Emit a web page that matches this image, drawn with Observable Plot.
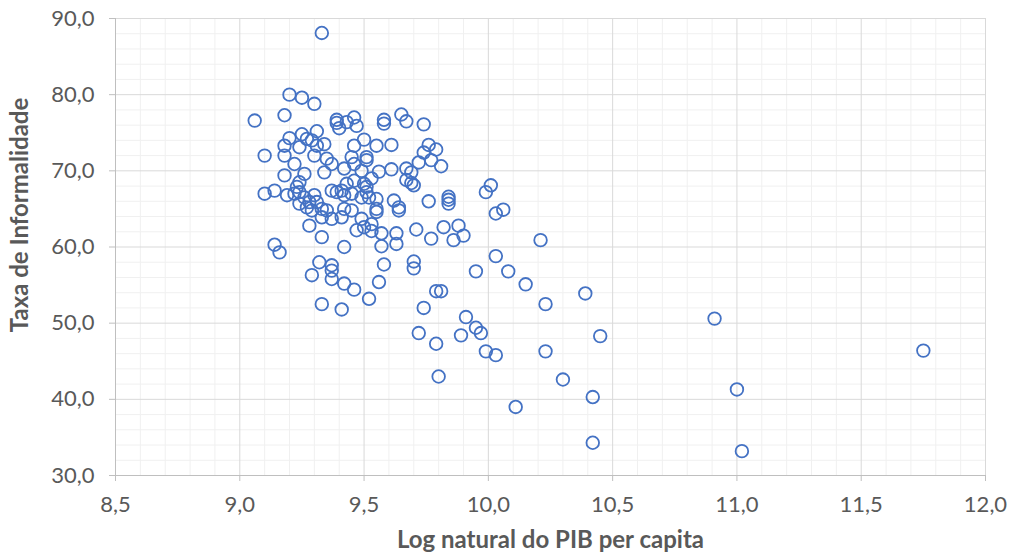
<!DOCTYPE html>
<html>
<head>
<meta charset="utf-8">
<script src="https://cdn.jsdelivr.net/npm/d3@7"></script>
<script src="https://cdn.jsdelivr.net/npm/@observablehq/plot@0.6"></script>
<style>
  html, body { margin: 0; padding: 0; background: #ffffff; }
  #chart { width: 1009px; height: 560px; }
</style>
</head>
<body>
<div id="chart"></div>
<script>
// Log natural do PIB per capita
const logPib = [
  9.33, 9.20, 9.25, 9.30, 9.06, 9.18, 9.39, 9.39, 9.43, 9.46,
  9.47, 9.40, 9.31, 9.20, 9.25, 9.27, 9.29, 9.34, 9.18, 9.46,
  9.50, 9.58, 9.58, 9.65, 9.67, 9.74, 9.55, 9.61, 9.51, 9.51,
  9.76, 9.79, 9.74, 9.77, 9.72, 9.81, 9.49, 9.56, 9.61, 9.67,
  9.69, 9.53, 9.67, 9.69, 9.70, 9.51, 9.51, 9.52, 9.55, 9.62,
  9.64, 9.55, 9.76, 9.84, 9.84, 9.84, 9.99, 10.01, 9.50, 9.55,
  9.64, 9.53, 9.50, 9.53, 9.57, 9.63, 9.63, 9.57, 9.71, 9.77,
  9.82, 9.88, 9.90, 9.86, 10.03, 9.58, 9.70, 9.70, 9.56, 9.52,
  9.95, 9.79, 9.81, 9.74, 9.91, 9.95, 9.97, 9.72, 9.89, 9.79,
  9.99, 10.03, 9.80, 10.06, 10.03, 10.21, 10.08, 10.15, 10.39, 10.23,
  10.23, 10.45, 10.30, 10.42, 10.11, 10.42, 9.32, 9.37, 9.37, 9.29,
  9.37, 9.42, 9.46, 9.33, 9.41, 9.10, 9.18, 9.22, 9.18, 9.26,
  9.24, 9.23, 9.10, 9.14, 9.19, 9.22, 9.24, 9.26, 9.24, 9.28,
  9.27, 9.29, 9.28, 9.14, 9.24, 9.31, 9.30, 9.35, 9.37, 9.45,
  9.46, 9.42, 9.34, 9.37, 9.39, 9.41, 9.43, 9.46, 9.49, 9.45,
  9.42, 9.30, 9.31, 9.33, 9.35, 9.33, 9.42, 9.41, 9.45, 9.49,
  9.47, 9.37, 9.33, 9.42, 9.16, 10.91, 11.00, 11.02, 11.75
];
// Taxa de Informalidade
const informalidade = [
  88.1, 80.0, 79.6, 78.8, 76.6, 77.3, 76.7, 76.3, 76.4, 77.0,
  75.9, 75.6, 75.2, 74.3, 74.8, 74.2, 74.0, 73.5, 73.3, 73.3,
  74.1, 76.7, 76.2, 77.4, 76.5, 76.1, 73.3, 73.4, 71.8, 71.4,
  73.4, 72.8, 72.4, 71.4, 71.1, 70.6, 70.0, 69.9, 70.2, 70.3,
  69.8, 69.0, 68.8, 68.4, 68.1, 67.9, 67.2, 66.5, 66.3, 66.1,
  65.2, 65.0, 66.0, 66.6, 66.2, 65.7, 67.2, 68.1, 68.3, 64.6,
  64.8, 63.0, 62.6, 62.1, 61.8, 61.8, 60.4, 60.1, 62.3, 61.1,
  62.6, 62.8, 61.5, 60.9, 58.8, 57.7, 58.1, 57.2, 55.4, 53.2,
  56.8, 54.2, 54.2, 52.0, 50.8, 49.4, 48.7, 48.7, 48.4, 47.3,
  46.3, 45.8, 43.0, 64.9, 64.4, 60.9, 56.8, 55.1, 53.9, 52.5,
  46.3, 48.3, 42.6, 40.3, 39.0, 34.3, 58.0, 57.6, 56.9, 56.3,
  55.8, 55.2, 54.4, 52.5, 51.8, 72.0, 72.0, 70.9, 69.4, 69.6,
  68.5, 67.9, 67.0, 67.4, 66.8, 67.0, 67.2, 66.5, 65.7, 65.9,
  65.2, 64.8, 62.8, 60.3, 73.1, 73.3, 72.0, 71.6, 70.9, 71.8,
  70.9, 70.3, 69.8, 67.4, 67.2, 67.4, 68.3, 68.7, 66.5, 67.0,
  66.8, 66.8, 65.9, 65.0, 64.8, 63.9, 65.0, 63.9, 64.8, 63.7,
  62.2, 63.7, 61.3, 60.0, 59.3, 50.6, 41.3, 33.2, 46.4
];

const xMajorTicks = [8.5, 9.0, 9.5, 10.0, 10.5, 11.0, 11.5, 12.0];
const yMajorTicks = [30, 40, 50, 60, 70, 80, 90];
const xMinorTicks = d3.range(86, 120, 1).map(d => d / 10).filter(v => Math.abs(v * 2 - Math.round(v * 2)) > 1e-6);
const yMinorTicks = d3.range(30, 91, 2).filter(v => v % 10 !== 0);

const xTitle = "Log natural do PIB per capita";
const yTitle = "Taxa de Informalidade";

const data = logPib.map((x, i) => ({x, y: informalidade[i]}));
const fmt = d => d.toFixed(1).replace(".", ",");

const chart = Plot.plot({
  width: 1009,
  height: 560,
  marginLeft: 115,
  marginRight: 24,
  marginTop: 18,
  marginBottom: 85,
  style: {fontFamily: "Lato, 'Noto Sans', sans-serif", background: "#ffffff", overflow: "visible"},
  x: {domain: [8.5, 12.0], label: null},
  y: {domain: [30, 90], label: null},
  marks: [
    Plot.ruleX(xMinorTicks, {stroke: "#f0f0f0", strokeWidth: 1}),
    Plot.ruleY(yMinorTicks, {stroke: "#f0f0f0", strokeWidth: 1}),
    Plot.ruleX(xMajorTicks.slice(1), {stroke: "#d9d9d9", strokeWidth: 1}),
    Plot.ruleY(yMajorTicks.slice(1), {stroke: "#d9d9d9", strokeWidth: 1}),
    Plot.ruleX([8.5], {stroke: "#bfbfbf", strokeWidth: 1}),
    Plot.ruleY([30], {stroke: "#bfbfbf", strokeWidth: 1}),
    Plot.axisX({ticks: xMajorTicks, tickFormat: fmt, tickSize: 6, tickPadding: 15,
      stroke: "#bfbfbf", fill: "#595959", fontSize: 22, label: null}),
    Plot.axisY({ticks: yMajorTicks, tickFormat: fmt, tickSize: 6, tickPadding: 15,
      stroke: "#bfbfbf", fill: "#595959", fontSize: 22, label: null}),
    Plot.dot(data, {x: "x", y: "y", r: 6.3, stroke: "#4472C4", strokeWidth: 1.8, fill: "none"}),
    Plot.text([xTitle], {frameAnchor: "bottom", dy: 72, fontSize: 24, fontWeight: "bold", fill: "#595959"}),
    Plot.text([yTitle], {frameAnchor: "left", textAnchor: "middle", dx: -95, dy: -32, rotate: -90, fontSize: 24, fontWeight: "bold", fill: "#595959"})
  ]
});
document.getElementById("chart").appendChild(chart);
</script>
</body>
</html>
